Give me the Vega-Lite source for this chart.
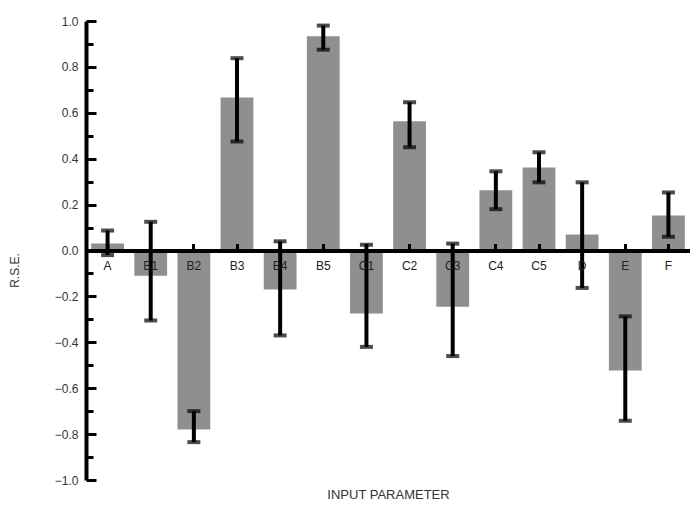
{
  "$schema": "https://vega.github.io/schema/vega-lite/v6.json",
  "width": 604,
  "height": 459,
  "autosize": "none",
  "padding": {"left": 86, "top": 21, "right": 0, "bottom": 35},
  "background": "white",
  "config": {"view": {"stroke": null}, "font": "Liberation Sans"},
  "data": {"values": [
    {"cat": "A", "value": 0.03, "lo": -0.02, "hi": 0.087},
    {"cat": "B1", "value": -0.11, "lo": -0.305, "hi": 0.125},
    {"cat": "B2", "value": -0.78, "lo": -0.835, "hi": -0.70},
    {"cat": "B3", "value": 0.667, "lo": 0.475, "hi": 0.838},
    {"cat": "B4", "value": -0.17, "lo": -0.37, "hi": 0.04},
    {"cat": "B5", "value": 0.934, "lo": 0.875, "hi": 0.98},
    {"cat": "C1", "value": -0.275, "lo": -0.42, "hi": 0.025},
    {"cat": "C2", "value": 0.563, "lo": 0.45, "hi": 0.646},
    {"cat": "C3", "value": -0.245, "lo": -0.46, "hi": 0.03},
    {"cat": "C4", "value": 0.262, "lo": 0.18, "hi": 0.345},
    {"cat": "C5", "value": 0.362, "lo": 0.297, "hi": 0.428},
    {"cat": "D", "value": 0.07, "lo": -0.163, "hi": 0.297},
    {"cat": "E", "value": -0.523, "lo": -0.742, "hi": -0.287},
    {"cat": "F", "value": 0.153, "lo": 0.06, "hi": 0.253}
  ]},
  "encoding": {
    "x": {
      "field": "cat", "type": "nominal", "sort": null,
      "scale": {"paddingInner": 0.24, "paddingOuter": 0.12},
      "axis": {
        "title": "INPUT PARAMETER", "zindex": 1,
        "titleFont": "Liberation Sans", "titleFontSize": 13, "titleFontWeight": "normal",
        "titleColor": "#333", "titleBaseline": "middle", "titleY": 244,
        "offset": -229.5,
        "domainColor": "black", "domainWidth": 4,
        "ticks": true, "tickColor": "black", "tickWidth": 3, "tickSize": -7,
        "labelAngle": 0, "labelFontSize": 12, "labelColor": "#222",
        "labelPadding": 22, "labelBaseline": "middle"
      }
    }
  },
  "layer": [
    {
      "mark": {"type": "bar", "color": "#8f8f8f"},
      "encoding": {
        "y": {
          "field": "value", "type": "quantitative", "title": "R.S.E.",
          "scale": {"domain": [-1, 1], "nice": false, "zero": false},
          "axis": {
            "tickCount": 20, "labelOverlap": false,
            "labelExpr": "abs(round(datum.value*10)) % 2 == 1 ? '' : format(datum.value, '.1f')",
            "grid": false, "zindex": 1,
            "domainColor": "black", "domainWidth": 4,
            "tickColor": "black",
            "tickWidth": 3, "tickSize": -10,
            "tickDash": {"condition": {"test": "abs(round(datum.value*10)) % 2 == 1", "value": [7, 30]}, "value": [1, 0]},
            "labelFontSize": 12, "labelColor": "#333", "labelPadding": 18,
            "titleFont": "Liberation Sans", "titleFontSize": 12, "titleFontWeight": "normal",
            "titleColor": "#333", "titleX": -72, "titleY": 249, "titleAngle": -90, "titleBaseline": "middle"
          }
        }
      }
    },
    {
      "mark": {"type": "rule", "color": "black", "strokeWidth": 4},
      "encoding": {
        "y": {"field": "lo", "type": "quantitative", "title": "R.S.E."},
        "y2": {"field": "hi"}
      }
    },
    {
      "mark": {"type": "tick", "color": "black", "thickness": 4, "size": 13},
      "encoding": {"y": {"field": "lo", "type": "quantitative", "title": "R.S.E."}}
    },
    {
      "mark": {"type": "tick", "color": "black", "thickness": 4, "size": 13},
      "encoding": {"y": {"field": "hi", "type": "quantitative", "title": "R.S.E."}}
    }
  ]
}
